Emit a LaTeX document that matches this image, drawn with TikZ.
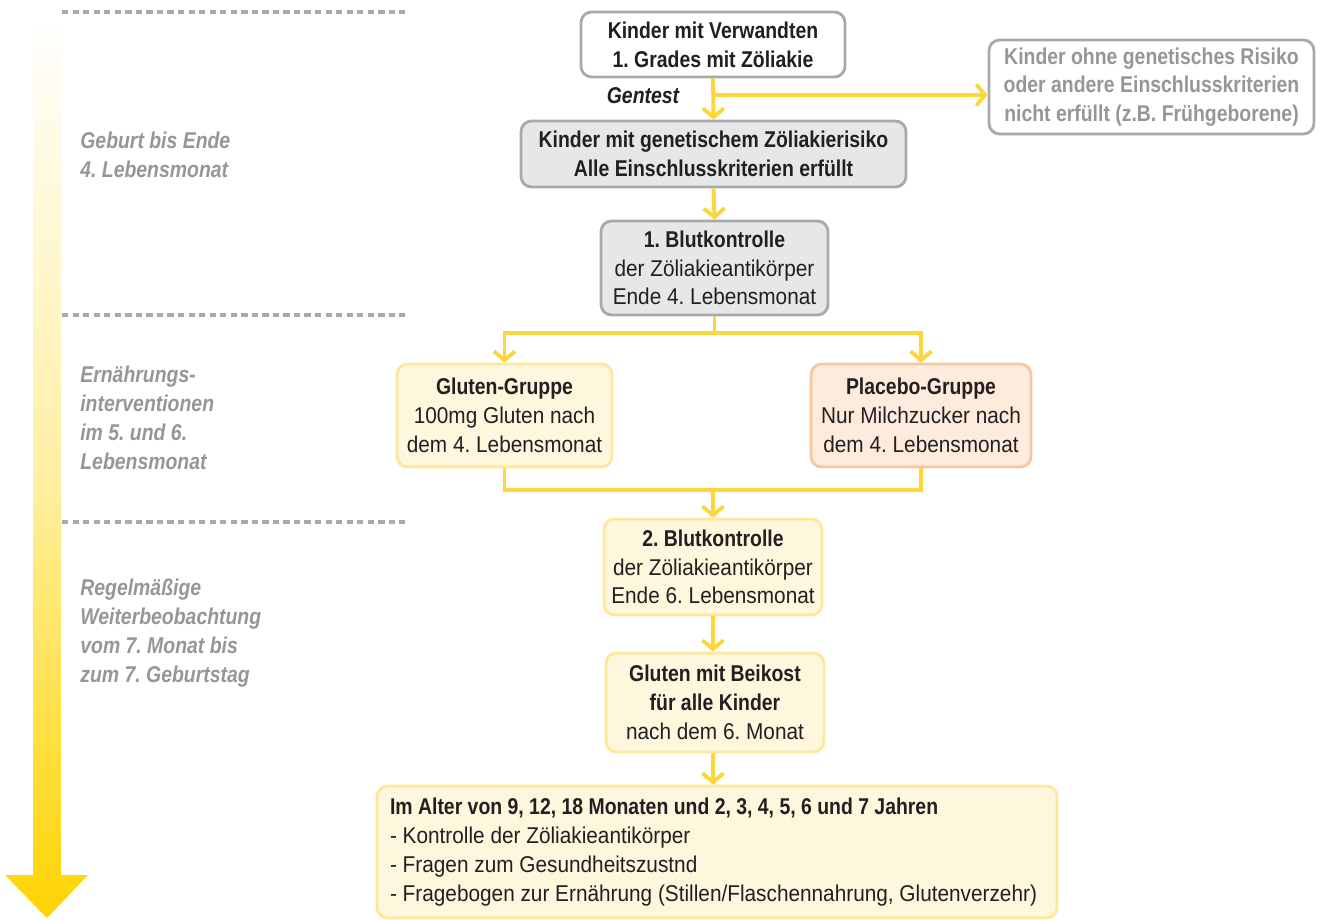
\documentclass[tikz,border=0pt]{standalone}
\usepackage{fontspec}
\setmainfont{Liberation Sans}[
  UprightFeatures={FakeStretch=0.91},
  BoldFeatures={FakeStretch=0.85},
  BoldItalicFeatures={FakeStretch=0.85}]
\usetikzlibrary{arrows.meta,positioning}
\definecolor{flowyellow}{RGB}{252,214,58}
\definecolor{timeyellow}{RGB}{255,212,0}
\definecolor{boxgray}{RGB}{168,169,172}
\definecolor{fillgray}{RGB}{230,231,232}
\definecolor{fillyellow}{RGB}{255,246,222}
\definecolor{lineyellow}{RGB}{254,231,152}
\definecolor{fillrose}{RGB}{253,235,222}
\definecolor{linerose}{RGB}{249,198,160}
\definecolor{labelgray}{RGB}{150,150,152}
\definecolor{textdark}{RGB}{35,31,32}
\tikzset{
  stepbox/.style={draw=boxgray,line width=1.6pt,rounded corners=6pt,align=center,
    text=textdark,inner sep=2pt,font=\fontsize{13}{16.4}\selectfont\frenchspacing},
  graybox/.style={stepbox,fill=fillgray},
  yellowbox/.style={stepbox,draw=lineyellow,fill=fillyellow},
  rosebox/.style={stepbox,draw=linerose,fill=fillrose},
  flow/.style={draw=flowyellow,line width=2.2pt},
  phase/.style={anchor=west,align=left,text=labelgray,inner xsep=0pt,
    font=\fontsize{13}{16.4}\selectfont\bfseries\itshape\frenchspacing},
  divider/.style={draw=boxgray,line width=2.2pt,dash pattern=on 3.6pt off 2.4pt}
}
\begin{document}
\begin{tikzpicture}[x=0.02cm,y=-0.02cm,>={Straight Barb[length=5pt,width=12pt]}]
\useasboundingbox (0,0) rectangle (1320,920);
% time line
\shade[top color=white,bottom color=timeyellow,middle color=timeyellow!35]
  (33,10) -- (61,10) -- (61,875) -- (88,875) -- (47,918) -- (5,875) -- (33,875) -- cycle;
\draw[divider] (62,12) -- (405,12);
\draw[divider] (62,315) -- (405,315);
\draw[divider] (62,522) -- (405,522);
\node[phase] (p1) at (80,155) {Geburt bis Ende\\4. Lebensmonat};
\node[phase] (p2) at (80,418) {Ernährungs-\\interventionen\\im 5. und 6.\\Lebensmonat};
\node[phase] (p3) at (80,633) {Regelmäßige\\Weiterbeobachtung\\vom 7. Monat bis\\zum 7. Geburtstag};
% boxes
\node[stepbox,fill=white,minimum width=5.28cm,minimum height=1.3cm] (relatives) at (713,44.5)
  {\bfseries Kinder mit Verwandten\\\bfseries 1. Grades mit Zöliakie};
\node[stepbox,fill=white,text=labelgray,minimum width=6.5cm,minimum height=1.88cm] (excluded) at (1151.5,87)
  {\bfseries Kinder ohne genetisches Risiko\\\bfseries oder andere Einschlusskriterien\\\bfseries nicht erfüllt (z.B. Frühgeborene)};
\node[graybox,minimum width=7.7cm,minimum height=1.32cm] (risk) at (713.5,154)
  {\bfseries Kinder mit genetischem Zöliakierisiko\\\bfseries Alle Einschlusskriterien erfüllt};
\node[graybox,minimum width=4.54cm,minimum height=1.88cm] (blood1) at (714.5,268)
  {\bfseries 1. Blutkontrolle\\der Zöliakieantikörper\\Ende 4. Lebensmonat};
\node[yellowbox,minimum width=4.3cm,minimum height=2.06cm] (gluten) at (504.5,415.5)
  {\bfseries Gluten-Gruppe\\100mg Gluten nach\\dem 4. Lebensmonat};
\node[rosebox,minimum width=4.4cm,minimum height=2.06cm] (placebo) at (921,415.5)
  {\bfseries Placebo-Gruppe\\Nur Milchzucker nach\\dem 4. Lebensmonat};
\node[yellowbox,minimum width=4.36cm,minimum height=1.92cm] (blood2) at (713,567)
  {\bfseries 2. Blutkontrolle\\der Zöliakieantikörper\\Ende 6. Lebensmonat};
\node[yellowbox,minimum width=4.36cm,minimum height=1.98cm] (solid) at (715,702.5)
  {\bfseries Gluten mit Beikost\\\bfseries für alle Kinder\\nach dem 6. Monat};
\node[yellowbox,align=left,text width=13.08cm,inner xsep=0.26cm,minimum height=2.64cm] (followup) at (717,852)
  {\spaceskip=0pt\xspaceskip=0pt\hyphenpenalty=10000
   {\bfseries Im Alter von 9, 12, 18 Monaten und 2, 3, 4, 5, 6 und 7 Jahren}\\
   - Kontrolle der Zöliakieantikörper\\
   - Fragen zum Gesundheitszustnd\\
   - Fragebogen zur Ernährung (Stillen/Flaschennahrung, Glutenverzehr)};
% connectors
\coordinate (gentest) at (713,95);
\coordinate (split) at (714.5,333);
\coordinate (merge) at (713,490);
\node[text=textdark,font=\fontsize{13}{16.4}\selectfont\bfseries\itshape] (gentestlabel) at (643,96) {Gentest};
\draw[flow,->] (relatives.south) -- (risk.north);
\draw[flow,->] (gentest) -- (gentest -| excluded.west);
\draw[flow,->] (risk.south) -- (blood1.north);
\draw[flow] (blood1.south) -- (split);
\draw[flow,->] (split) -| (gluten.north);
\draw[flow,->] (split) -| (placebo.north);
\draw[flow] (gluten.south) |- (merge) -| (placebo.south);
\draw[flow,->] (merge) -- (blood2.north);
\draw[flow,->] (blood2.south) -- (blood2.south |- solid.north);
\draw[flow,->] (solid.south -| merge) -- (merge |- followup.north);
\end{tikzpicture}
\end{document}
